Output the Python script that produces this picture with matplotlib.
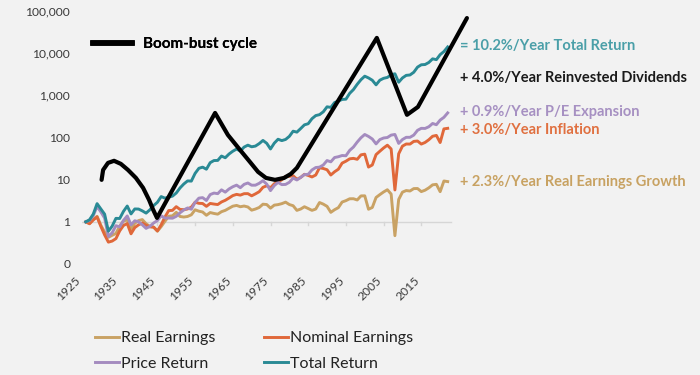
import matplotlib

matplotlib.use("Agg")
import matplotlib.pyplot as plt  # noqa: E402
from matplotlib.lines import Line2D  # noqa: E402

plt.rcParams["font.family"] = ["Lato", "DejaVu Sans"]

# growth of $1, one value per year
years = list(range(1926, 2023))
total_return = [
    1.00, 1.12, 1.53, 2.70, 2.02, 1.52, 0.60, 0.79, 1.21, 1.20,
    1.77, 2.37, 1.54, 2.02, 2.01, 1.82, 1.61, 1.93, 2.43, 2.91,
    3.97, 3.65, 3.85, 4.07, 4.83, 6.36, 7.89, 9.34, 9.24, 14.1,
    18.6, 19.8, 17.7, 25.3, 28.4, 28.6, 36.3, 33.1, 40.6, 47.3,
    53.2, 47.8, 59.3, 65.8, 60.2, 62.6, 71.6, 85.2, 72.8, 53.5,
    73.4, 90.9, 84.4, 89.9, 106.5, 141.1, 134.1, 162.9, 199.6, 212.1,
    279.4, 331.0, 348.3, 406.3, 534.5, 517.5, 675.6, 727.4, 800.1, 810.5,
    1113.9, 1370.0, 1828.3, 2350.9, 2845.6, 2586.5, 2279.1, 1775.3, 2284.8, 2533.2,
    2657.6, 3077.3, 3246.4, 2045.4, 2586.5, 2976.3, 3039.1, 3525.4, 4667.1, 5306.3,
    5379.7, 6023.1, 7338.0, 7016.7, 9226.3, 10924.1, 14059.8,
]
price_return = [
    1.00, 1.08, 1.42, 2.30, 1.72, 1.23, 0.45, 0.55, 0.81, 0.76,
    1.08, 1.38, 0.85, 1.06, 1.00, 0.85, 0.70, 0.78, 0.94, 1.07,
    1.39, 1.23, 1.23, 1.22, 1.35, 1.64, 1.91, 2.13, 1.99, 2.89,
    3.65, 3.75, 3.21, 4.43, 4.81, 4.66, 5.74, 5.06, 6.02, 6.80,
    7.42, 6.45, 7.74, 8.34, 7.39, 7.40, 8.19, 9.47, 7.83, 5.50,
    7.24, 8.62, 7.63, 7.71, 8.66, 10.9, 9.84, 11.3, 13.2, 13.4,
    17.0, 19.4, 19.8, 22.3, 28.4, 26.5, 33.5, 35.0, 37.4, 36.9,
    49.4, 59.4, 77.9, 98.7, 118, 106, 92.1, 70.6, 89.2, 97.3,
    100, 114, 118, 72.5, 89.5, 101, 101, 114, 148, 165,
    164, 180, 215, 201, 259, 301, 383,
]
nominal_earnings = [
    1.00, 0.90, 1.11, 1.30, 0.78, 0.49, 0.33, 0.35, 0.40, 0.61,
    0.82, 0.91, 0.52, 0.73, 0.85, 0.94, 0.83, 0.76, 0.75, 0.61,
    0.85, 1.30, 1.85, 1.87, 2.29, 1.97, 1.94, 2.02, 2.23, 2.92,
    2.75, 2.72, 2.33, 2.73, 2.64, 2.57, 2.96, 3.24, 3.67, 4.19,
    4.48, 4.30, 4.65, 4.66, 4.14, 4.60, 5.18, 6.58, 7.17, 6.42,
    7.99, 8.78, 9.94, 12.0, 11.95, 12.4, 10.2, 11.3, 13.4, 12.6,
    11.6, 12.9, 19.2, 18.4, 17.2, 12.9, 15.4, 17.7, 24.7, 27.4,
    31.2, 32.0, 30.4, 38.8, 40.3, 19.9, 22.3, 39.3, 47.2, 56.4,
    65.7, 53.4, 5.7, 41.1, 62.4, 70.1, 69.8, 80.8, 82.5, 69.8,
    76.3, 88.6, 107, 112, 75.9, 160, 165,
]
real_earnings = [
    1.00, 0.92, 1.15, 1.35, 0.83, 0.57, 0.43, 0.48, 0.53, 0.79,
    1.04, 1.12, 0.65, 0.93, 1.07, 1.13, 0.90, 0.78, 0.75, 0.60,
    0.77, 1.03, 1.36, 1.39, 1.68, 1.34, 1.30, 1.34, 1.47, 1.93,
    1.79, 1.71, 1.43, 1.66, 1.58, 1.52, 1.74, 1.87, 2.10, 2.35,
    2.45, 2.28, 2.37, 2.25, 1.89, 2.01, 2.19, 2.62, 2.57, 2.11,
    2.49, 2.56, 2.70, 2.93, 2.57, 2.41, 1.87, 2.01, 2.28, 2.07,
    1.87, 2.01, 2.87, 2.63, 2.33, 1.68, 1.94, 2.17, 2.95, 3.18,
    3.52, 3.53, 3.30, 4.12, 4.14, 1.99, 2.19, 3.78, 4.42, 5.11,
    5.77, 4.56, 0.47, 3.39, 5.06, 5.52, 5.38, 6.14, 6.17, 5.21,
    5.63, 6.40, 7.54, 7.75, 5.19, 9.3, 9.0,
]

# hand-drawn boom-bust curve
cycle_years = [
    1930.2, 1930.6, 1931.9, 1933.5, 1935.3, 1937.2, 1939.3, 1941.2, 1942.8, 1943.8,
    1944.9, 1960.3, 1963.7, 1966.9, 1969.6, 1971.7, 1973.8, 1976.2, 1978.6, 1980.4,
    1982.0, 2003.2, 2011.2, 2014.1, 2027.1,
]
cycle_values = [
    9.9, 17, 25, 28, 23.7, 17, 11, 6.4, 3.3, 2.0,
    1.24, 382, 115, 51, 26, 15.3, 11, 9.9, 11, 13.7,
    19, 23000, 345, 530, 68000,
]

decades = list(range(1925, 2016, 10))
y_ticks = [0.1, 1, 10, 100, 1000, 10000, 100000]
y_labels = ["0", "1", "10", "100", "1,000", "10,000", "100,000"]

C_REAL = "#c9a264"
C_NOM = "#e0683a"
C_PRICE = "#a48bbf"
C_TOTAL = "#2a8a95"
BG = "#f2f2f2"

fig = plt.figure(figsize=(7, 3.75), dpi=100, facecolor=BG)
ax = fig.add_axes([82 / 700, 1 - 264 / 375, 610 / 700, 253 / 375])
ax.set_facecolor(BG)
ax.set_yscale("log")
ax.set_ylim(0.1, 100000)
ax.set_xlim(1925, 1925 + 610 / 3.77)
for s in ax.spines.values():
    s.set_visible(False)

# category axis crossing at 1
ax.plot([1925, 2023], [1, 1], color="#d6d6d6", lw=1, zorder=0)
for d in decades[1:]:
    ax.plot([d, d], [1, 0.82], color="#d6d6d6", lw=1, zorder=0)

lw = 2.1
l_real, = ax.plot(years, real_earnings, color=C_REAL, lw=lw)
l_nom, = ax.plot(years, nominal_earnings, color=C_NOM, lw=lw)
l_price, = ax.plot(years, price_return, color=C_PRICE, lw=lw)
l_total, = ax.plot(years, total_return, color=C_TOTAL, lw=lw)
ax.plot(cycle_years, cycle_values, color="black", lw=3, solid_joinstyle="round",
        solid_capstyle="round", clip_on=False, zorder=5)

ax.set_yticks(y_ticks)
ax.set_yticklabels(y_labels)
ax.yaxis.set_minor_locator(plt.NullLocator())
ax.tick_params(axis="y", length=0, pad=8.5, labelsize=8.7, labelcolor="#3a3a3a")
ax.set_xticks(decades)
ax.set_xticklabels([str(d) for d in decades], rotation=45, ha="right")
ax.tick_params(axis="x", length=0, pad=8, labelsize=8.7, labelcolor="#3a3a3a")

notes = [
    ("= 10.2%/Year Total Return", 14500, "#4a9fa8"),
    ("+ 4.0%/Year Reinvested Dividends", 2600, "#1a1a1a"),
    ("+ 0.9%/Year P/E Expansion", 400, "#a690c2"),
    ("+ 3.0%/Year Inflation", 150, "#e07040"),
    ("+ 2.3%/Year Real Earnings Growth", 8.9, "#c8a262"),
]
for txt, yv, col in notes:
    ax.text(2025.3, yv, txt, color=col, fontsize=10.5, fontweight="bold",
            va="center", ha="left")

cycle_leg = ax.legend(
    handles=[Line2D([0], [0], color="black", lw=4)], labels=["Boom-bust cycle"],
    loc="center left", bbox_to_anchor=(93 / 700, 1 - 44 / 375),
    bbox_transform=fig.transFigure, frameon=False, handlelength=2.55,
    handletextpad=0.7, borderpad=0, borderaxespad=0,
    prop={"weight": "bold", "size": 11},
)
ax.add_artist(cycle_leg)

fig.legend(
    handles=[l_real, l_price, l_nom, l_total],
    labels=["Real Earnings", "Price Return", "Nominal Earnings", "Total Return"],
    ncol=2, loc="upper left", bbox_to_anchor=(95 / 700, 1 - 331 / 375),
    frameon=False, fontsize=11.5, handlelength=1.5, handletextpad=0.15,
    columnspacing=3.0, labelspacing=0.7, borderpad=0, borderaxespad=0,
    labelcolor="#222222",
)

fig.savefig("out.png", dpi=100, facecolor=BG)
